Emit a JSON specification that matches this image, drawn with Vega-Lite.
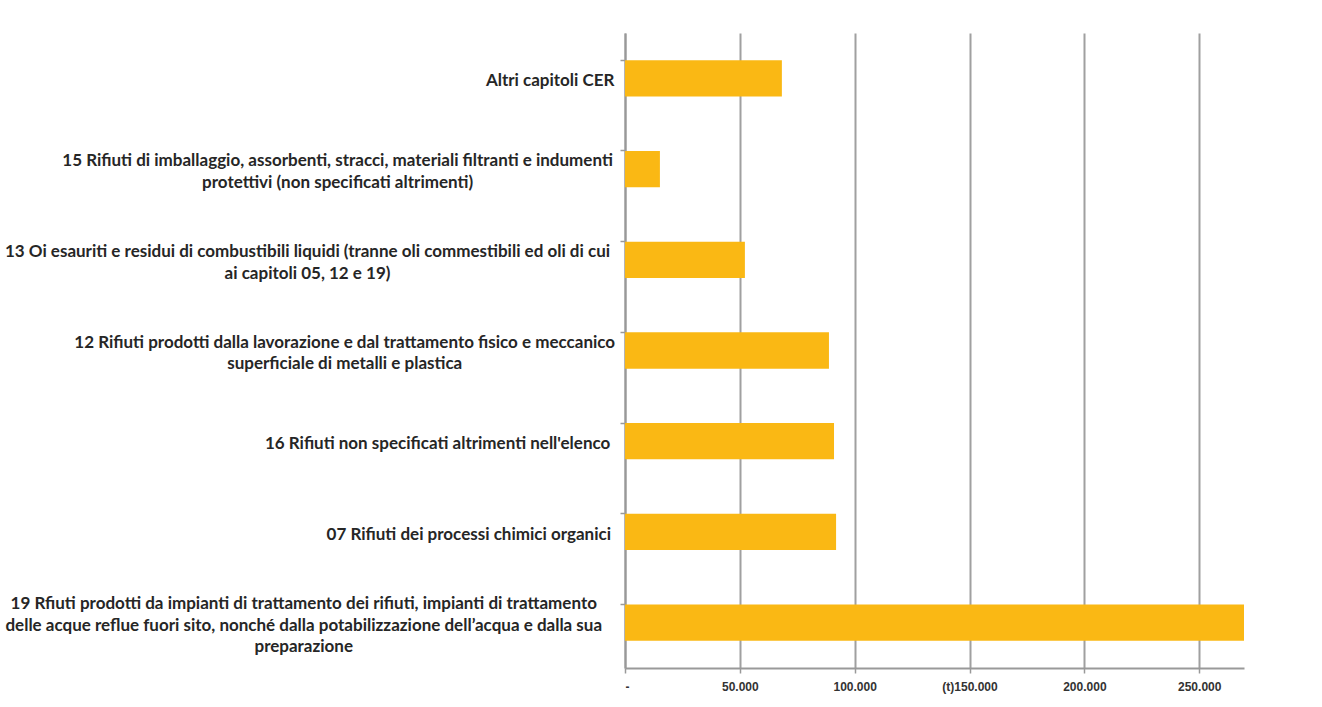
{
  "$schema": "https://vega.github.io/schema/vega-lite/v6.json",
  "autosize": "none",
  "width": 619,
  "height": 635,
  "padding": {"left": 625, "top": 33, "right": 78, "bottom": 39},
  "background": "white",
  "config": {
    "view": {"stroke": null},
    "font": "Lato"
  },
  "data": {
    "values": [
      {"categoria": "Altri capitoli CER", "t": 68300},
      {"categoria": "15 Rifiuti di imballaggio, assorbenti, stracci, materiali filtranti e indumenti|protettivi (non specificati altrimenti)", "t": 15200},
      {"categoria": "13 Oi esauriti e residui di combustibili liquidi (tranne oli commestibili ed oli di cui|ai capitoli 05, 12 e 19)", "t": 52200},
      {"categoria": "12 Rifiuti prodotti dalla lavorazione e dal trattamento fisico e meccanico|superficiale di metalli e plastica", "t": 88800},
      {"categoria": "16 Rifiuti non specificati altrimenti nell'elenco", "t": 91000},
      {"categoria": "07 Rifiuti dei processi chimici organici", "t": 91900},
      {"categoria": "19 Rfiuti prodotti da impianti di trattamento dei rifiuti, impianti di trattamento|delle acque reflue fuori sito, nonché dalla potabilizzazione dell’acqua e dalla sua|preparazione", "t": 269500}
    ]
  },
  "mark": {"type": "bar", "color": "#FAB814"},
  "encoding": {
    "y": {
      "field": "categoria",
      "type": "nominal",
      "sort": null,
      "scale": {"paddingInner": 0.6, "paddingOuter": 0.3},
      "axis": {
        "title": null,
        "labelExpr": "split(datum.label, '|')",
        "labelLimit": 0,
        "labelFont": "Lato",
        "labelFontSize": 17,
        "labelFontWeight": "bold",
        "labelColor": "#262626",
        "labelLineHeight": 21.5,
        "labelAlign": "center",
        "labelOffset": {"expr": "3 - (length(split(datum.label, '|')) - 1) * 10.75"},
        "labelPadding": {"expr": "8 + 0.5 * max((8.74 * length(split(datum.label, '|')[0] || '') - 3.27 * length(replace(split(datum.label, '|')[0] || '', regexp('[^iltfrj ,.()]', 'g'), ''))), (8.74 * length(split(datum.label, '|')[1] || '') - 3.27 * length(replace(split(datum.label, '|')[1] || '', regexp('[^iltfrj ,.()]', 'g'), ''))), (8.74 * length(split(datum.label, '|')[2] || '') - 3.27 * length(replace(split(datum.label, '|')[2] || '', regexp('[^iltfrj ,.()]', 'g'), ''))))"},
        "tickSize": 5,
        "tickColor": "#999999",
        "tickWidth": 1.5,
        "bandPosition": 0,
        "domainColor": "#999999",
        "domainWidth": 2,
        "grid": false
      }
    },
    "x": {
      "field": "t",
      "type": "quantitative",
      "scale": {"domain": [0, 269500], "nice": false, "zero": true},
      "axis": {
        "title": null,
        "values": [0, 50000, 100000, 150000, 200000, 250000],
        "labelExpr": "datum.value == 0 ? '-' : (datum.value == 150000 ? '(t)150.000' : format(datum.value / 1000, 'd') + '.000')",
        "labelFont": "Liberation Sans",
        "labelFontSize": 12,
        "labelFontWeight": "bold",
        "labelColor": "#333333",
        "labelPadding": 8,
        "tickSize": 5,
        "tickColor": "#999999",
        "tickWidth": 1.5,
        "domainColor": "#999999",
        "domainWidth": 2,
        "grid": true,
        "gridColor": "#a0a0a0",
        "gridWidth": 2
      }
    }
  }
}
